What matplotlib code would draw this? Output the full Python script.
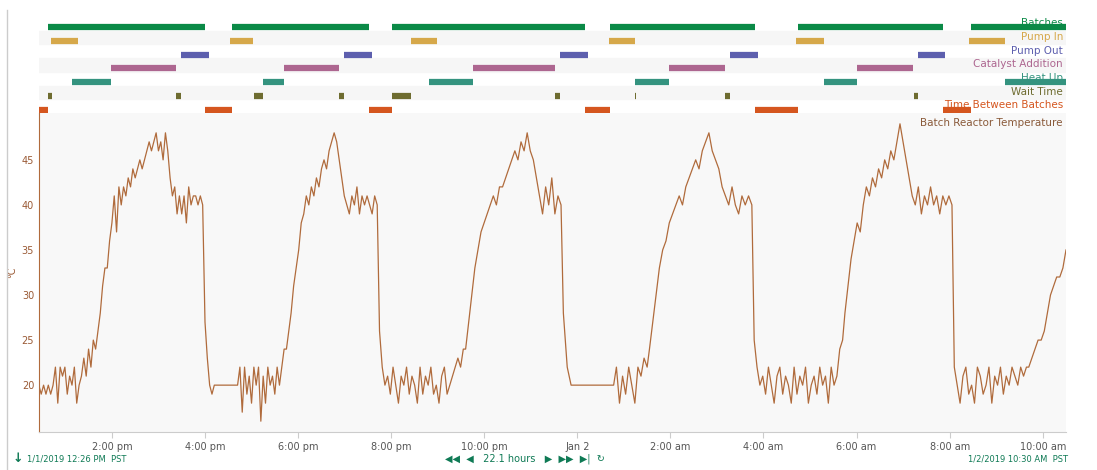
import numpy as np
import matplotlib
matplotlib.use("Agg")
import matplotlib.pyplot as plt

# time in hours since 2019-01-01 12:00 PM
t_start, t_end = 26/60, 22.5

lane_names = ["Batches", "Pump In", "Pump Out", "Catalyst Addition", "Heat Up",
              "Wait Time", "Time Between Batches"]
lane_colors = ["#0b8a47", "#d6a84a", "#5d5fae", "#ad6690", "#34937f", "#6e6c30", "#d5561f"]
batches = [(0.63, 4.01), (4.57, 7.53), (8.02, 12.16), (12.71, 15.82), (16.74, 19.85), (20.45, 22.5)]
pump_in = [(0.69, 1.27), (4.53, 5.04), (8.43, 8.99), (12.67, 13.25), (16.70, 17.30), (20.41, 21.18)]
pump_out = [(3.48, 4.08), (6.99, 7.59), (11.62, 12.22), (15.28, 15.88), (19.31, 19.91)]
catalyst = [(1.98, 3.37), (5.69, 6.89), (9.76, 11.53), (13.98, 15.18), (18.01, 19.21)]
heat_up = [(1.14, 1.98), (5.24, 5.69), (8.81, 9.76), (13.25, 13.98), (17.30, 18.01), (21.18, 22.5)]
wait_time = [(0.63, 0.72), (3.37, 3.48), (5.06, 5.24), (6.89, 6.99), (8.02, 8.43), (11.53, 11.62),
             (13.24, 13.26), (15.18, 15.28), (19.23, 19.31)]
between = [(0.43, 0.63), (4.01, 4.57), (7.53, 8.02), (12.16, 12.71), (15.82, 16.74), (19.85, 20.45)]
lanes = [batches, pump_in, pump_out, catalyst, heat_up, wait_time, between]

# temperature segments: (t0, t1, values)
temp_segments = [
    (0.43, 1.60, [20, 19, 20, 19, 20, 19, 20, 22, 18, 22, 21, 22, 19, 21, 20, 22, 18, 20, 21, 23, 21, 24, 22, 25]),
    (1.65, 3.95, [24, 26, 28, 31, 33, 33, 36, 38, 41, 37, 42, 40, 42, 41, 43, 42, 44, 43, 44, 45, 44, 45, 46,
                  47, 46, 47, 48, 46, 47, 45, 48, 46, 43, 41, 42, 39, 41, 39, 41, 38, 42, 40, 41, 41, 40, 41, 40]),
    (4.00, 4.70, [27, 23, 20, 19, 20, 20, 20, 20, 20, 20, 20, 20, 20, 20, 20]),
    (4.75, 5.80, [22, 17, 22, 19, 21, 18, 22, 20, 22, 16, 21, 18, 22, 20, 21, 19, 22, 20, 22, 24, 24, 26]),
    (5.85, 7.70, [28, 31, 33, 35, 38, 39, 41, 40, 42, 41, 43, 42, 44, 45, 44, 46, 47, 48, 47, 45, 43, 41, 40,
                  39, 41, 40, 42, 39, 41, 40, 41, 40, 39, 41, 40]),
    (7.75, 9.55, [26, 22, 20, 21, 19, 22, 20, 18, 21, 20, 22, 19, 21, 20, 18, 22, 19, 21, 20, 22, 19, 20, 18,
                  21, 22, 19, 20, 21, 22, 23, 22, 24]),
    (9.60, 11.65, [24, 27, 30, 33, 35, 37, 38, 39, 40, 41, 40, 42, 42, 43, 44, 45, 46, 45, 47, 46, 48, 46,
                   45, 43, 41, 39, 42, 40, 43, 39, 41, 40]),
    (11.70, 12.78, [28, 22, 20, 20, 20, 20, 20, 20, 20, 20, 20, 20, 20, 20]),
    (12.84, 13.50, [22, 18, 21, 19, 22, 20, 18, 22, 21, 23, 22]),
    (13.55, 15.75, [24, 27, 30, 33, 35, 36, 38, 39, 40, 41, 40, 42, 43, 44, 45, 44, 46, 47, 48, 46, 45,
                   44, 42, 41, 40, 42, 40, 39, 41, 40, 41, 40]),
    (15.80, 17.70, [25, 22, 20, 21, 19, 22, 20, 18, 21, 22, 19, 21, 20, 18, 22, 19, 21, 20, 22, 18, 20,
                   21, 19, 22, 20, 21, 18, 22, 20, 21, 24, 25]),
    (17.75, 20.05, [28, 31, 34, 36, 38, 37, 40, 42, 41, 43, 42, 44, 43, 45, 44, 46, 45, 47, 49, 47, 45, 43,
                   41, 40, 42, 39, 41, 40, 42, 40, 41, 39, 41, 40, 41, 40]),
    (20.10, 21.65, [22, 20, 18, 21, 22, 19, 20, 18, 22, 21, 19, 20, 22, 18, 21, 20, 22, 19, 21, 20, 22, 21,
                   20, 22, 21, 22]),
    (21.70, 22.50, [22, 23, 24, 25, 25, 26, 28, 30, 31, 32, 32, 33, 35]),
]

x_ticks = [2, 4, 6, 8, 10, 12, 14, 16, 18, 20, 22]
x_labels = ["2:00 pm", "4:00 pm", "6:00 pm", "8:00 pm", "10:00 pm", "Jan 2",
            "2:00 am", "4:00 am", "6:00 am", "8:00 am", "10:00 am"]
y_ticks = [20, 25, 30, 35, 40, 45]

W, H = 1097, 470
fig = plt.figure(figsize=(W/100, H/100), dpi=100)
def rect(x0, y0, x1, y1):
    return [x0/W, 1 - y1/H, (x1-x0)/W, (y1-y0)/H]

temp_color = "#b06b3c"
lab_color = "#9a5a35"

# lanes
axl = fig.add_axes(rect(39, 17, 1066, 113))
axl.set_xlim(t_start, t_end)
axl.set_ylim(7, 0)
axl.axis("off")
for i, (name, col, segs) in enumerate(zip(lane_names, lane_colors, lanes)):
    if i % 2 == 1:
        axl.axhspan(i, i+1, color="#f6f6f6", zorder=0)
    for a, b in segs:
        axl.plot([a, b], [i+0.75, i+0.75], color=col, lw=4.5, solid_capstyle="butt", zorder=2)
    axl.text(0.997, 1 - (i+0.45)/7, name, transform=axl.transAxes, ha="right", va="center",
             fontsize=7.5, color=col, zorder=3)

# main
ax = fig.add_axes(rect(39, 113, 1066, 432))
ax.set_facecolor("#f8f8f8")
tt = np.concatenate([np.linspace(t0, t1, len(v)) for t0, t1, v in temp_segments])
vv = np.concatenate([v for _, _, v in temp_segments])
ax.plot(tt, vv, color=temp_color, lw=0.9)
ax.set_xlim(t_start, t_end)
ax.set_ylim(14.8, 50.2)
ax.set_xticks(x_ticks)
ax.set_xticklabels(x_labels, fontsize=7, color="#555555")
ax.set_yticks(y_ticks)
ax.set_yticklabels([str(v) for v in y_ticks], fontsize=7, color=lab_color)
ax.tick_params(axis="x", length=4, color="#cccccc")
ax.tick_params(axis="y", length=0)
for s in ["top", "right"]:
    ax.spines[s].set_visible(False)
ax.spines["left"].set_color(temp_color)
ax.spines["left"].set_linewidth(0.8)
ax.spines["bottom"].set_color("#cccccc")
ax.set_ylabel("°C", fontsize=7, color=lab_color)
ax.yaxis.set_label_coords(-22/1027, 0.5)
ax.text(0.997, 0.985, "Batch Reactor Temperature", transform=ax.transAxes, ha="right", va="top",
        fontsize=7.5, color="#8a5a3a")

# frame line left
fig.add_artist(plt.Line2D([7/W, 7/W], [0, 1 - 10/H], color="#cccccc", lw=1))

g = "#0f7a55"
y = 1 - 459/H
fig.text(13/W, y, "↓", fontsize=9, color=g, ha="left", va="center", fontweight="bold")
fig.text(27/W, y, "1/1/2019 12:26 PM  PST", fontsize=6, color=g, ha="left", va="center")
fig.text(525/W, y, "◀◀  ◀   22.1 hours   ▶  ▶▶  ▶|  ↻", fontsize=7, color=g, ha="center", va="center")
fig.text(1068/W, y, "1/2/2019 10:30 AM  PST", fontsize=6, color=g, ha="right", va="center")

fig.savefig("out.png", dpi=100)
